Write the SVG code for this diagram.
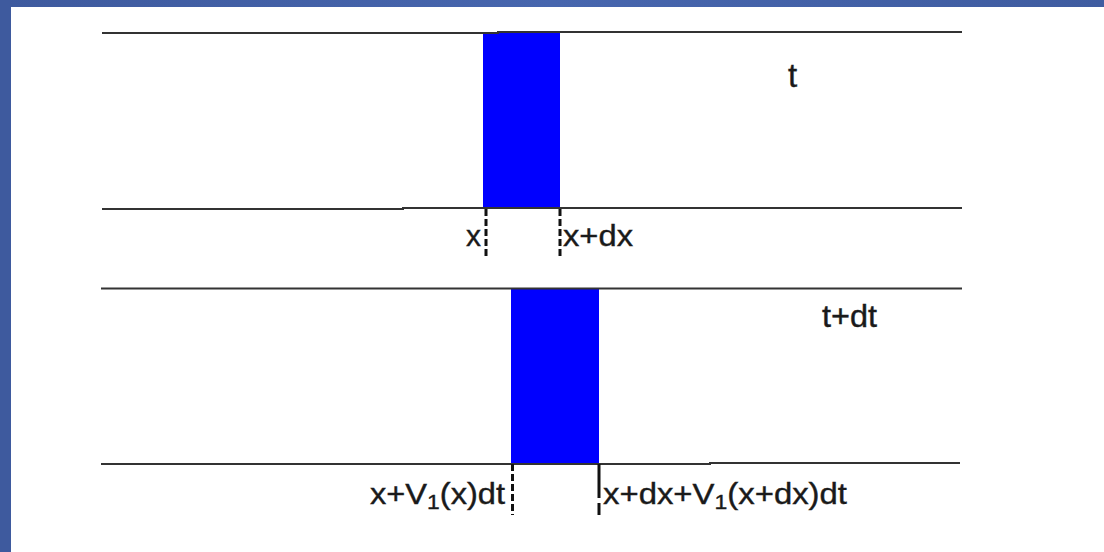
<svg xmlns="http://www.w3.org/2000/svg" width="1104" height="552" viewBox="0 0 1104 552">
<defs>
<linearGradient id="topg" x1="0" y1="0" x2="1" y2="0">
<stop offset="0" stop-color="#3e5a9e"/>
<stop offset="0.5" stop-color="#4766ae"/>
<stop offset="1" stop-color="#3f5ca0"/>
</linearGradient>
</defs>
<style>
.ln{stroke:#333;stroke-width:2;fill:none}
.blk{fill:#0000ff}
.dash{stroke:#111;stroke-width:3;stroke-dasharray:7 3;fill:none}
.sol{stroke:#111;stroke-width:3;fill:none}
.lbl{font-family:"Liberation Sans",Arial,sans-serif;fill:#1a1a1a;stroke:#1a1a1a;stroke-width:0.4}
</style>
<rect x="0" y="0" width="1104" height="552" fill="#fff"/>
<rect x="0" y="0" width="1104" height="7" fill="url(#topg)"/>
<rect x="0" y="0" width="11" height="552" fill="#3e5a9e"/>
<g id="frame-t">
<rect class="blk" x="483" y="33" width="77" height="176"/>
<path class="ln" d="M102 33 H498 V32 H962"/>
<path class="ln" d="M102 209 H403 V208 H962"/>
</g>
<g id="frame-tdt">
<rect class="blk" x="511" y="289" width="88" height="175"/>
<path class="ln" d="M101 288.5 H962"/>
<path class="ln" d="M101 464 H710 V463 H960"/>
</g>
<g id="connectors">
<path class="dash" d="M486 209 V258"/>
<path class="dash" d="M560 209 V258"/>
<path class="dash" d="M512.5 464 V515"/>
<path class="sol" d="M599 464 V498 M599 503 V515"/>
</g>
<g id="labels">
<text class="lbl" x="466" y="246" font-size="30">x</text>
<text class="lbl" x="563" y="246" font-size="30" textLength="70" lengthAdjust="spacingAndGlyphs">x+dx</text>
<text class="lbl" x="788" y="87" font-size="33">t</text>
<text class="lbl" x="822" y="327" font-size="31" textLength="55" lengthAdjust="spacingAndGlyphs">t+dt</text>
<text class="lbl" x="370" y="504" font-size="30" textLength="135" lengthAdjust="spacingAndGlyphs">x+V<tspan font-size="21" dy="5">1</tspan><tspan dy="-5">(x)dt</tspan></text>
<text class="lbl" x="603" y="504" font-size="30" textLength="244" lengthAdjust="spacingAndGlyphs">x+dx+V<tspan font-size="21" dy="5">1</tspan><tspan dy="-5">(x+dx)dt</tspan></text>
</g>
</svg>
